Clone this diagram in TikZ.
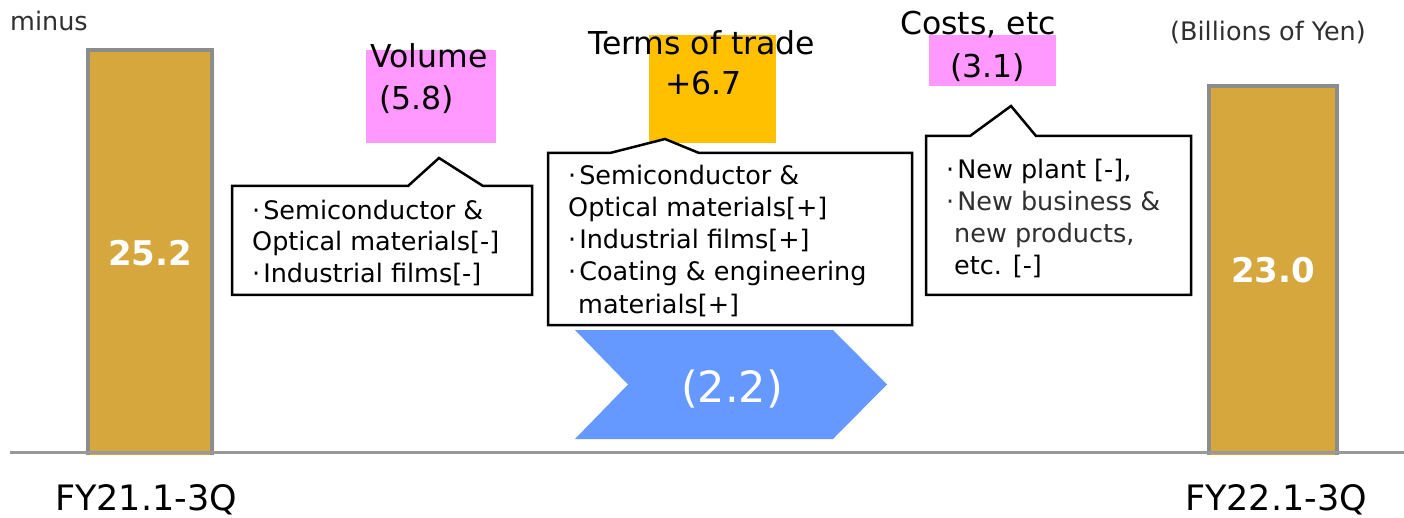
\documentclass[tikz,border=0pt]{standalone}
\usepackage{fontspec}
\setmainfont{DejaVu Sans}
\definecolor{bargold}{HTML}{D6A73C}
\definecolor{bargray}{HTML}{8C8C8C}
\definecolor{pinkbox}{HTML}{FF99FF}
\definecolor{orangebox}{HTML}{FFC000}
\definecolor{chevblue}{HTML}{6699FF}
\definecolor{axisgray}{HTML}{999999}
\definecolor{darktext}{HTML}{303030}
\newcommand{\bul}{·\hspace{3pt}}
\begin{document}
\begin{tikzpicture}[x=1pt,y=-1pt,
  cline/.style={inner sep=0pt, anchor=base west, font=\fontsize{25.5}{32}\selectfont},
  headtxt/.style={inner sep=0pt, anchor=base west, font=\fontsize{31.5}{38}\selectfont},
  smalltxt/.style={inner sep=0pt, anchor=base west, font=\fontsize{25.5}{30}\selectfont, text=darktext},
  fytxt/.style={inner sep=0pt, anchor=base west, font=\fontsize{35}{42}\selectfont},
  barval/.style={inner sep=0pt, anchor=base, text=white, font=\fontsize{34}{40}\selectfont\bfseries},
  barstyle/.style={draw=bargray, line width=3.5pt, fill=bargold},
  callout/.style={draw=black, line width=2.5pt, line join=miter, fill=white}]
\useasboundingbox (0,0) rectangle (1404,518);
% bars
\draw[barstyle] (88,50) rectangle (212,460);
\draw[barstyle] (1209,86) rectangle (1337,460);
\fill[white] (0,454.5) rectangle (1404,470);
\draw[axisgray, line width=3.5pt] (10,452.5) -- (1404,452.5);
\node[barval] (valL) at (150,266) {25.2};
\node[barval] (valR) at (1273,283) {23.0};
% labels
\node[smalltxt] (minus) at (10,31) {minus};
\node[smalltxt] (unit) at (1170,41) {(Billions of Yen)};
\node[fytxt] (fy21) at (55,510) {FY21.1-3Q};
\node[fytxt] (fy22) at (1185,510) {FY22.1-3Q};
% coloured boxes
\fill[pinkbox] (366,50) rectangle (496,143);
\fill[orangebox] (649,35) rectangle (776,143);
\fill[pinkbox] (929,35) rectangle (1056,86);
\node[headtxt] (volT) at (370,68) {Volume};
\node[headtxt] (volV) at (379,110) {(5.8)};
\node[headtxt] (totT) at (588,55) {Terms of trade};
\node[headtxt] (totV) at (665,95) {+6.7};
\node[headtxt] (cstT) at (900,35) {Costs, etc};
\node[headtxt] (cstV) at (950,78) {(3.1)};
% callouts
\draw[callout] (232,186) -- (408,186) -- (439,158) -- (483,186) -- (532,186) -- (532,295) -- (232,295) -- cycle;
\draw[callout] (548,153) -- (610,153) -- (665,139) -- (699,153) -- (912,153) -- (912,325) -- (548,325) -- cycle;
\draw[callout] (926,136) -- (970,136) -- (1011,106) -- (1036,136) -- (1191,136) -- (1191,295) -- (926,295) -- cycle;
\node[cline] (a1) at (252,220) {\bul Semiconductor \&};
\node[cline] (a2) at (252,251) {Optical materials[-]};
\node[cline] (a3) at (252,283) {\bul Industrial films[-]};
\node[cline] (b1) at (568,185) {\bul Semiconductor \&};
\node[cline] (b2) at (568,217) {Optical materials[+]};
\node[cline] (b3) at (568,249) {\bul Industrial films[+]};
\node[cline] (b4) at (568,281) {\bul Coating \& engineering};
\node[cline] (b5) at (578,313) {materials[+]};
\node[cline] (c1) at (946,179) {\bul New plant [-],};
\node[cline, text=darktext] (c2) at (946,211) {\bul New business \&};
\node[cline, text=darktext] (c3) at (954,243) {new products,};
\node[cline] (c4) at (954,275) {etc. [-]};
% chevron
\fill[chevblue] (575,330) -- (833,330) -- (887,384.5) -- (833,439) -- (575,439) -- (628,384.5) -- cycle;
\node[inner sep=0pt, anchor=base, text=white, font=\fontsize{43}{50}\selectfont] (chev) at (732,402) {(2.2)};
\end{tikzpicture}
\end{document}
